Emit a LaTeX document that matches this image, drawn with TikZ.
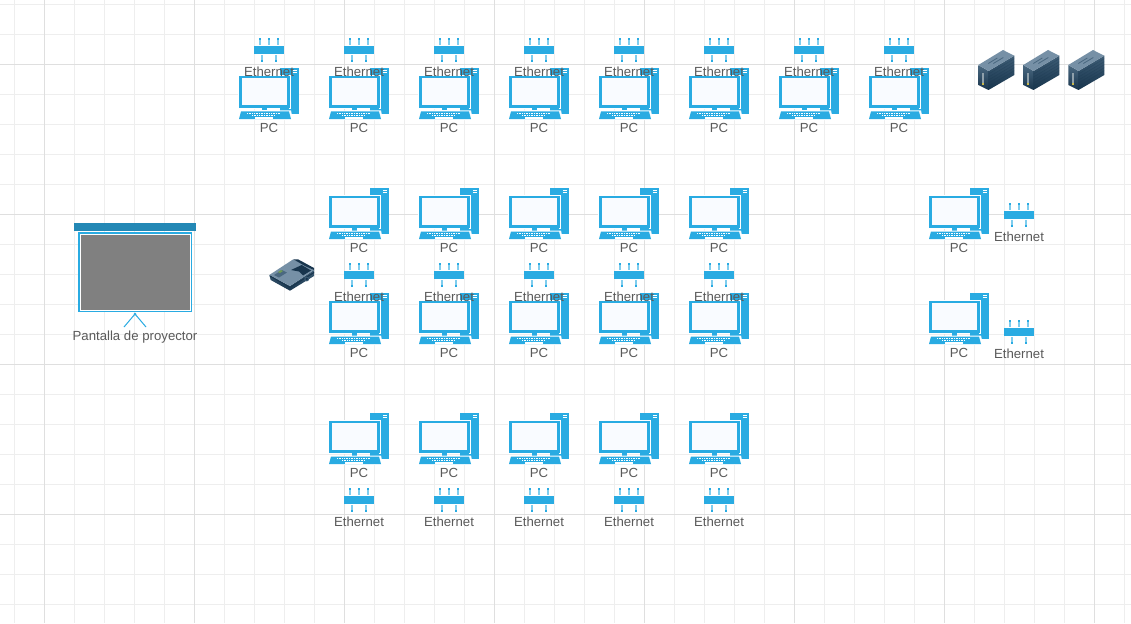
\documentclass[tikz,border=0pt]{standalone}
\usepackage{fontspec}
\setmainfont{Liberation Sans}
\definecolor{iconblue}{HTML}{29ABE2}
\definecolor{iconpale}{HTML}{7FCDEE}
\definecolor{labelgrey}{HTML}{5A5A5A}
\definecolor{gridminor}{HTML}{EEEEEE}
\definecolor{gridmajor}{HTML}{DFDFDF}
\definecolor{screenbar}{HTML}{2388B5}
\definecolor{steelA}{HTML}{7690A6}
\definecolor{steelB}{HTML}{4A6880}
\definecolor{steelC}{HTML}{18354D}
\definecolor{steelD}{HTML}{3D5C75}
\definecolor{screengrey}{HTML}{808080}
\definecolor{screenwhite}{HTML}{F9FBFF}
\definecolor{slotgrey}{HTML}{8FA0AB}
\definecolor{ledgreen}{HTML}{6E9A55}
\definecolor{ledyellow}{HTML}{C9B84A}
\tikzset{
  iconlabel/.style={font=\fontsize{13.2}{15}\selectfont,text=labelgrey,inner sep=0pt,anchor=center},
  pics/pcicon/.style={code={
    \fill[iconblue] (41,0) rectangle (60,46);
    \fill[white] (54,1.6) rectangle (58,2.4);
    \fill[white] (54,3.6) rectangle (58,4.4);
    \fill[white] (-1,6.7) rectangle (51.7,40.7);
    \fill[iconblue] (0,7.7) rectangle (50.5,39.7);
    \fill[screenwhite] (3,10.2) rectangle (48,37);
    \fill[iconblue] (23,39.7) rectangle (28,42.5);
    \fill[iconblue] (41,39.7) rectangle (50,42);
    \fill[white] (1,42.5) -- (52,42.5) -- (54,52) -- (-1,52) -- cycle;
    \fill[iconblue] (2,43.5) -- (50,43.5) -- (52,51) -- (0,51) -- cycle;
    \fill[white] (16,49) rectangle (34,51.2);
    \draw[white,line width=0.7pt,dash pattern=on 1pt off 0.7pt] (8,45) -- (41,45);
    \draw[white,line width=0.7pt,dash pattern=on 1pt off 0.7pt] (13,47.3) -- (36,47.3);
  }},
  pics/etherbar/.style={code={
    \fill[iconblue] (-15,-4) rectangle (15,4);
    \foreach \dx in {-9,0,9}{
      \fill[iconpale] (\dx-1,-10) rectangle (\dx+1,-5);
      \fill[iconblue] (\dx-1,-12) rectangle (\dx+1,-10);
    }
    \foreach \dx in {-6.7,6.7}{
      \fill[iconpale] (\dx-1,5) rectangle (\dx+1,10);
      \fill[iconblue] (\dx-1,10) rectangle (\dx+1,12);
    }
  }},
  pics/upsbox/.style={code={
    \shade[top color=steelB,bottom color=steelC] (0,15) -- (10.2,21) -- (10.2,40) -- (0,35) -- cycle;
    \shade[top color=steelD,bottom color=steelC] (10.2,21) -- (36,5.7) -- (36,25) -- (10.2,40) -- cycle;
    \fill[steelA] (0,15) -- (24.7,0) -- (36,5.7) -- (10.2,21) -- cycle;
    \draw[steelB,line width=0.8pt] (10,13.5) -- (19,8) (15,13.5) -- (25,7.5);
    \foreach \k in {1,2,3,4,5}{
      \draw[steelC,opacity=.3,line width=0.5pt] (10.2,21+\k*3) -- (36,5.7+\k*3);
    }
    \fill[slotgrey] (3.8,23) rectangle (5.8,33);
    \fill[ledyellow] (3.8,33) rectangle (5.8,35);
  }}
}
\begin{document}
\begin{tikzpicture}[x=1pt,y=-1pt]
\useasboundingbox (0,0) rectangle (1131,623);
\fill[white] (0,0) rectangle (1131,623);
% grid
\foreach \k in {0,...,37}{\draw[gridminor,line width=1pt] ({14.5+30*\k},0) -- ({14.5+30*\k},623);}
\foreach \k in {0,...,20}{\draw[gridminor,line width=1pt] (0,{4.5+30*\k}) -- (1131,{4.5+30*\k});}
\foreach \k in {0,...,7}{\draw[gridmajor,line width=1pt] ({44.5+150*\k},0) -- ({44.5+150*\k},623);}
\foreach \k in {0,...,3}{\draw[gridmajor,line width=1pt] (0,{64.5+150*\k}) -- (1131,{64.5+150*\k});}

% projection screen
\fill[iconblue] (78,232) rectangle (192,312);
\fill[white] (79.5,233.5) rectangle (190.5,310.5);
\fill[screengrey] (81,235) rectangle (189.5,309.5);
\fill[screenbar] (74,223) rectangle (196,231);
\draw[iconblue,line width=1pt] (124,327) -- (135,314) -- (146,327);
\fill[iconblue] (135,314) circle (1.5);
\node[iconlabel] (screenlabel) at (135,337.5) {Pantalla de proyector};

% projector
\shade[top color=steelD,bottom color=steelC] (269.3,275) -- (290,286) -- (314,270) -- (314,276) -- (290,290.7) -- (270.7,280) -- cycle;
\fill[steelA] (269.3,275) -- (293.3,259.3) -- (314,270) -- (290,286) -- cycle;
\fill[steelC] (293.3,259.3) -- (298,259.3) -- (314,268) -- (314,270) -- (306,266.5) -- cycle;
\fill[steelC] (291,270) -- (301.7,265) -- (311,270.5) -- (303,275.5) -- (299,271.5) -- cycle;
\fill[steelB] (274,275) -- (282,270) -- (287,272.5) -- (279,277.5) -- cycle;
\fill[ledgreen] (278,272) -- (281,270) -- (283,271) -- (280,273) -- cycle;
\draw[steelC,line width=1pt] (270,276) -- (290,287.5) -- (314,272.5);
\fill[steelD] (306.7,279) circle (2.4);
\fill[steelC] (306.7,279) circle (1.3);

% server cabinets
\foreach \i/\x in {1/978.3,2/1023.3,3/1068.3}{
  \pic (ups\i) at (\x,50) {upsbox};
}

% computers
\foreach \i/\x in {0/239,1/329,2/419,3/509,4/599,5/689,6/779,7/869}{
  \pic (pctop\i) at (\x,68) {pcicon};
  \node[iconlabel] (pctoplabel\i) at (\x+30,128.4) {PC};
}
\foreach \i/\x in {1/329,2/419,3/509,4/599,5/689}{
  \pic (pcb\i) at (\x,188) {pcicon};
  \node[iconlabel] (pcblabel\i) at (\x+30,248.4) {PC};
  \pic (pcc\i) at (\x,293) {pcicon};
  \node[iconlabel] (pcclabel\i) at (\x+30,353.4) {PC};
  \pic (pcd\i) at (\x,413) {pcicon};
  \node[iconlabel] (pcdlabel\i) at (\x+30,473.4) {PC};
}
\pic (pcr1) at (929,188) {pcicon};
\node[iconlabel] (pcrlabel1) at (959,248.4) {PC};
\pic (pcr2) at (929,293) {pcicon};
\node[iconlabel] (pcrlabel2) at (959,353.4) {PC};

% ethernet
\foreach \i/\x in {0/269,1/359,2/449,3/539,4/629,5/719,6/809,7/899}{
  \pic (ethtop\i) at (\x,50) {etherbar};
  \node[iconlabel] (ethtoplabel\i) at (\x,71.4) {Ethernet};
}
\foreach \i/\x in {1/359,2/449,3/539,4/629,5/719}{
  \pic (ethc\i) at (\x,275) {etherbar};
  \node[iconlabel] (ethclabel\i) at (\x,296.4) {Ethernet};
  \pic (ethd\i) at (\x,500) {etherbar};
  \node[iconlabel] (ethdlabel\i) at (\x,521.4) {Ethernet};
}
\pic (ethr1) at (1019,215) {etherbar};
\node[iconlabel] (ethrlabel1) at (1019,236.4) {Ethernet};
\pic (ethr2) at (1019,332) {etherbar};
\node[iconlabel] (ethrlabel2) at (1019,353.4) {Ethernet};
\end{tikzpicture}
\end{document}
